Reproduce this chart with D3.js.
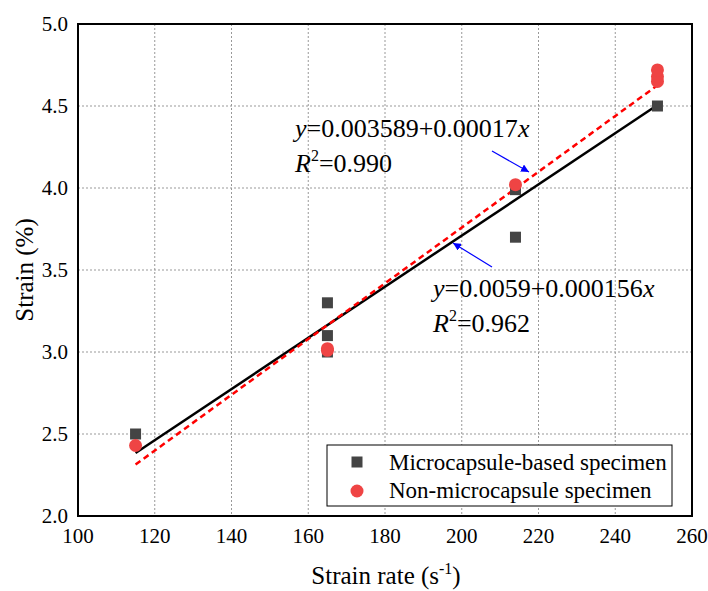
<!DOCTYPE html>
<html>
<head>
<meta charset="utf-8">
<script src="https://cdn.jsdelivr.net/npm/d3@7"></script>
<style>
body { margin: 0; background: #fff; }
svg, text { font-family: "Liberation Serif", "Times New Roman", serif; fill: #000; }
</style>
</head>
<body>
<svg id="chart" width="708" height="591"></svg>
<script>
// data
const microRate = [115, 165, 165, 165, 214, 214, 251];
const microStrain = [2.50, 3.30, 3.10, 3.00, 3.99, 3.70, 4.50];
const nonRate = [115, 165, 165, 214, 251, 251, 251];
const nonStrain = [2.43, 3.01, 3.02, 4.02, 4.65, 4.68, 4.72];
const xTicks = [100, 120, 140, 160, 180, 200, 220, 240, 260];
const yTicks = [2.0, 2.5, 3.0, 3.5, 4.0, 4.5, 5.0];
// fitted lines (strain in %, from the stated equations)
const fitMicro = { a: 0.59, b: 0.0156 };
const fitNon = { a: 0.3589, b: 0.017 };
const fitRange = [115, 251];

const svg = d3.select('#chart');
const pLeft = 78, pRight = 692, pTop = 24, pBottom = 516;

const x = d3.scaleLinear().domain([100, 260]).range([pLeft, pRight]);
const y = d3.scaleLinear().domain([2.0, 5.0]).range([pBottom, pTop]);

// grid
const grid = svg.append('g');
grid.selectAll('line.vx')
    .data(xTicks.slice(1, -1))
    .enter().append('line')
    .attr('x1', d => x(d)).attr('x2', d => x(d))
    .attr('y1', pTop).attr('y2', pBottom)
    .attr('stroke', '#999').attr('stroke-width', 1)
    .attr('stroke-dasharray', '2,2');
grid.selectAll('line.hy')
    .data(yTicks.slice(1, -1))
    .enter().append('line')
    .attr('y1', d => y(d)).attr('y2', d => y(d))
    .attr('x1', pLeft).attr('x2', pRight)
    .attr('stroke', '#999').attr('stroke-width', 1)
    .attr('stroke-dasharray', '2,2');

// tick labels
svg.append('g').selectAll('text')
    .data(xTicks)
    .enter().append('text')
    .attr('x', d => x(d)).attr('y', 543)
    .attr('text-anchor', 'middle')
    .attr('font-size', 21)
    .text(d => d);
svg.append('g').selectAll('text')
    .data(yTicks)
    .enter().append('text')
    .attr('x', 68).attr('y', d => y(d) + 7)
    .attr('text-anchor', 'end')
    .attr('font-size', 21)
    .text(d => d.toFixed(1));

// axis titles
const xt = svg.append('text')
    .attr('x', 386).attr('y', 584)
    .attr('text-anchor', 'middle')
    .attr('font-size', 25);
xt.append('tspan').text('Strain rate (s');
xt.append('tspan').attr('dy', -10).attr('font-size', 16).text('-1');
xt.append('tspan').attr('dy', 10).text(')');

svg.append('text')
    .attr('transform', 'translate(33,' + ((pTop + pBottom) / 2) + ') rotate(-90)')
    .attr('text-anchor', 'middle')
    .attr('font-size', 25)
    .text('Strain (%)');

// fit lines
function fitLine(f) {
    return fitRange.map(v => [x(v), y(f.a + f.b * v)]);
}
const line = d3.line();
svg.append('path')
    .attr('d', line(fitLine(fitMicro)))
    .attr('stroke', '#000').attr('stroke-width', 2.5).attr('fill', 'none');
svg.append('path')
    .attr('d', line(fitLine(fitNon)))
    .attr('stroke', '#ff0000').attr('stroke-width', 2.5)
    .attr('stroke-dasharray', '6,4').attr('fill', 'none');

// points
svg.append('g').selectAll('rect')
    .data(microRate.map((r, i) => [r, microStrain[i]]))
    .enter().append('rect')
    .attr('x', d => x(d[0]) - 5.5).attr('y', d => y(d[1]) - 5.5)
    .attr('width', 11).attr('height', 11)
    .attr('fill', '#444');
svg.append('g').selectAll('circle')
    .data(nonRate.map((r, i) => [r, nonStrain[i]]))
    .enter().append('circle')
    .attr('cx', d => x(d[0])).attr('cy', d => y(d[1]))
    .attr('r', 6.5)
    .attr('fill', '#ef4444');

// frame
svg.append('rect')
    .attr('x', pLeft).attr('y', pTop)
    .attr('width', pRight - pLeft).attr('height', pBottom - pTop)
    .attr('fill', 'none').attr('stroke', '#000').attr('stroke-width', 2);

// annotations
svg.append('defs').append('marker')
    .attr('id', 'arr').attr('viewBox', '0 0 10 10')
    .attr('refX', 10).attr('refY', 5)
    .attr('markerWidth', 8).attr('markerHeight', 8)
    .attr('markerUnits', 'userSpaceOnUse')
    .attr('orient', 'auto')
    .append('path').attr('d', 'M0,0 L10,5 L0,10 z').attr('fill', '#0000ff');

function eqText(x0, y0, a, b, r2) {
    const t1 = svg.append('text').attr('x', x0).attr('y', y0).attr('font-size', 26);
    t1.append('tspan').attr('font-style', 'italic').text('y');
    t1.append('tspan').text('=' + a + '+' + b);
    t1.append('tspan').attr('font-style', 'italic').text('x');
    const t2 = svg.append('text').attr('x', x0).attr('y', y0 + 35).attr('font-size', 26);
    t2.append('tspan').attr('font-style', 'italic').text('R');
    t2.append('tspan').attr('dy', -11).attr('font-size', 16).text('2');
    t2.append('tspan').attr('dy', 11).text('=' + r2);
}
eqText(295, 137, '0.003589', '0.00017', '0.990');
eqText(433, 297, '0.0059', '0.000156', '0.962');

svg.append('line')
    .attr('x1', 492).attr('y1', 151).attr('x2', 529).attr('y2', 172)
    .attr('stroke', '#0000ff').attr('stroke-width', 1.2).attr('marker-end', 'url(#arr)');
svg.append('line')
    .attr('x1', 492).attr('y1', 267).attr('x2', 453).attr('y2', 243)
    .attr('stroke', '#0000ff').attr('stroke-width', 1.2).attr('marker-end', 'url(#arr)');

// legend
const lg = svg.append('g');
lg.append('rect')
    .attr('x', 327).attr('y', 445).attr('width', 345).attr('height', 61)
    .attr('fill', '#fff').attr('stroke', '#000').attr('stroke-width', 1);
lg.append('rect')
    .attr('x', 357 - 5.5).attr('y', 462 - 5.5).attr('width', 11).attr('height', 11)
    .attr('fill', '#444');
lg.append('circle').attr('cx', 357).attr('cy', 491).attr('r', 6.5).attr('fill', '#ef4444');
lg.append('text').attr('x', 389).attr('y', 470).attr('font-size', 23).text('Microcapsule-based specimen');
lg.append('text').attr('x', 389).attr('y', 498).attr('font-size', 23).text('Non-microcapsule specimen');
</script>
</body>
</html>
